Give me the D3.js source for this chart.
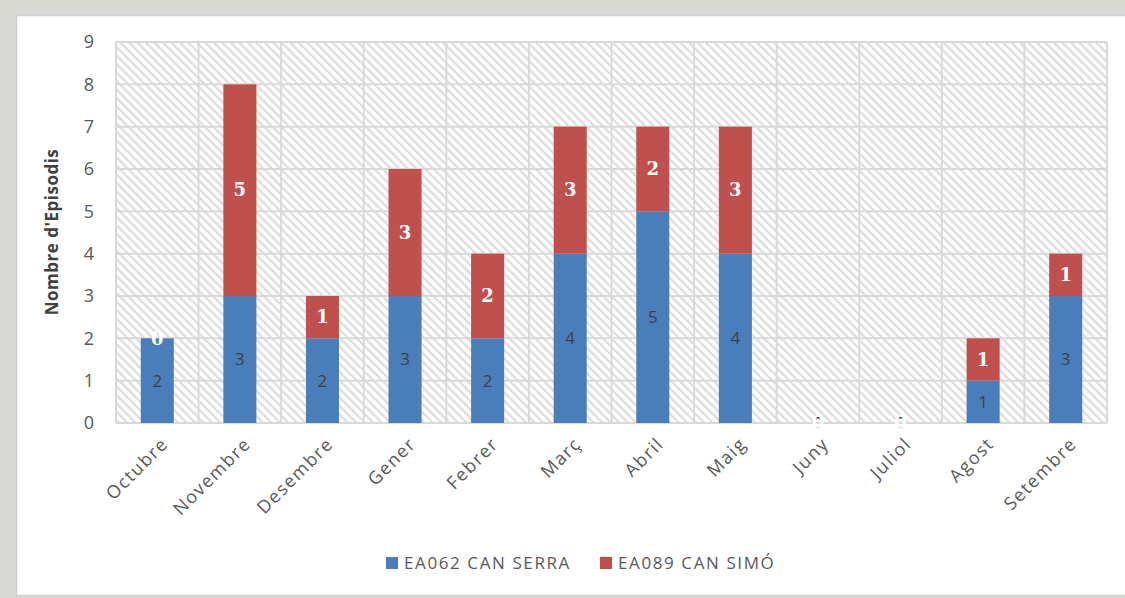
<!DOCTYPE html>
<meta charset="utf-8">
<head>
  <title>Nombre d'Episodis</title>
</head>
<style>
  body { margin: 0; background: #d9d9d4; }
  .axis text { font-family: "Open Sans", sans-serif; fill: #595959; }
  .lbl-blue { font-family: "Open Sans", sans-serif; font-size: 17px; fill: #404040; }
  .lbl-red { font-family: "DejaVu Serif", serif; font-size: 18px; font-weight: bold; fill: #fff; }
</style>
<body>
<svg id="chart" width="1125" height="598"></svg>
<script src="https://cdnjs.cloudflare.com/ajax/libs/d3/7.8.5/d3.min.js"></script>
<script>
var months = ["Octubre", "Novembre", "Desembre", "Gener", "Febrer", "Març", "Abril", "Maig", "Juny", "Juliol", "Agost", "Setembre"];
var canSerra = [2, 3, 2, 3, 2, 4, 5, 4, 0, 0, 1, 3];
var canSimo = [0, 5, 1, 3, 2, 3, 2, 3, 0, 0, 1, 1];
var seriesNames = ["EA062 CAN SERRA", "EA089 CAN SIMÓ"];
var yTicks = [0, 1, 2, 3, 4, 5, 6, 7, 8, 9];

var blue = "#4a7ebb", red = "#c0504d";

var svg = d3.select("#chart");

// white panel
svg.append("rect")
  .attr("x", 16.5).attr("y", 15.5)
  .attr("width", 1120).attr("height", 580)
  .attr("fill", "#fff").attr("stroke", "#cfcfcf").attr("stroke-width", 1.5);

// hatch pattern (\\\ direction)
var defs = svg.append("defs");
var pat = defs.append("pattern")
  .attr("id", "hatch")
  .attr("patternUnits", "userSpaceOnUse")
  .attr("width", 6).attr("height", 6)
  .attr("patternTransform", "rotate(-45)");
pat.append("rect").attr("width", 6).attr("height", 6).attr("fill", "#fff");
pat.append("rect").attr("x", 0).attr("y", 0).attr("width", 2.2).attr("height", 6).attr("fill", "#dcdcdc");

var plotLeft = 116, plotRight = 1107, plotTop = 42, plotBottom = 423;

var x = d3.scaleBand().domain(months).range([plotLeft, plotRight]).paddingInner(0.6).paddingOuter(0.3);
var xCell = d3.scaleBand().domain(months).range([plotLeft, plotRight]);
var y = d3.scaleLinear().domain([0, 9]).range([plotBottom, plotTop]);

svg.append("rect")
  .attr("x", plotLeft).attr("y", plotTop)
  .attr("width", plotRight - plotLeft).attr("height", plotBottom - plotTop)
  .attr("fill", "url(#hatch)");

// grid
var grid = svg.append("g").attr("stroke", "#d9d9d9").attr("stroke-width", 2);
yTicks.forEach(function(t) {
  grid.append("line").attr("x1", plotLeft).attr("x2", plotRight).attr("y1", y(t)).attr("y2", y(t));
});
months.forEach(function(m) {
  grid.append("line").attr("x1", xCell(m)).attr("x2", xCell(m)).attr("y1", plotTop).attr("y2", plotBottom);
});
grid.append("line").attr("x1", plotRight).attr("x2", plotRight).attr("y1", plotTop).attr("y2", plotBottom);

// y axis labels
var yAxis = svg.append("g").attr("class", "axis")
  .attr("transform", "translate(" + plotLeft + ",0)")
  .call(d3.axisLeft(y).tickValues(yTicks).tickSize(0).tickPadding(22));
yAxis.select(".domain").remove();
yAxis.selectAll("text").style("font-size", "18px");

// x axis labels
var xAxis = svg.append("g").attr("class", "axis")
  .attr("transform", "translate(0," + plotBottom + ")")
  .call(d3.axisBottom(x).tickSize(0).tickPadding(0));
xAxis.select(".domain").remove();
xAxis.selectAll("text")
  .style("font-size", "18px")
  .style("letter-spacing", "1.5px")
  .attr("text-anchor", "end")
  .attr("dy", null)
  .attr("y", 0)
  .attr("transform", "translate(12,22) rotate(-45)");

// y title
svg.append("text")
  .attr("transform", "translate(58,232) rotate(-90)")
  .attr("text-anchor", "middle")
  .style("font-family", "'Open Sans', sans-serif")
  .style("font-size", "17px")
  .style("font-weight", "bold")
  .style("letter-spacing", "0.5px")
  .style("fill", "#404040")
  .text("Nombre d'Episodis");

// bars
var stacked = months.map(function(m, i) {
  return { m: m, a: canSerra[i], b: canSimo[i] };
});

svg.selectAll(".bar-a").data(stacked).enter().append("rect")
  .attr("x", function(d) { return x(d.m); })
  .attr("width", x.bandwidth())
  .attr("y", function(d) { return y(d.a); })
  .attr("height", function(d) { return y(0) - y(d.a); })
  .attr("fill", blue);

svg.selectAll(".bar-b").data(stacked).enter().append("rect")
  .attr("x", function(d) { return x(d.m); })
  .attr("width", x.bandwidth())
  .attr("y", function(d) { return y(d.a + d.b); })
  .attr("height", function(d) { return y(d.a) - y(d.a + d.b); })
  .attr("fill", red);

// labels
svg.selectAll(".la").data(stacked).enter().append("text")
  .attr("class", "lbl-blue")
  .attr("text-anchor", "middle")
  .attr("dy", "0.35em")
  .attr("x", function(d) { return x(d.m) + x.bandwidth() / 2; })
  .attr("y", function(d) { return y(d.a / 2); })
  .text(function(d) { return d.a; });

svg.selectAll(".lb").data(stacked).enter().append("text")
  .attr("class", "lbl-red")
  .attr("text-anchor", "middle")
  .attr("dy", "0.35em")
  .attr("x", function(d) { return x(d.m) + x.bandwidth() / 2; })
  .attr("y", function(d) { return y(d.a + d.b / 2); })
  .text(function(d) { return d.b; });

// legend
var legend = svg.append("g").attr("transform", "translate(386,563)");
var lx = [0, 214];
seriesNames.forEach(function(n, i) {
  var g = legend.append("g").attr("transform", "translate(" + lx[i] + ",0)");
  g.append("rect").attr("x", 0).attr("y", -6).attr("width", 12).attr("height", 12).attr("fill", i ? red : blue);
  g.append("text").attr("x", 18).attr("dy", "0.35em")
    .style("font-family", "'Open Sans', sans-serif")
    .style("font-size", "17px")
    .style("letter-spacing", "1.6px")
    .style("fill", "#595959")
    .text(n);
});
</script>
</body>
</html>
